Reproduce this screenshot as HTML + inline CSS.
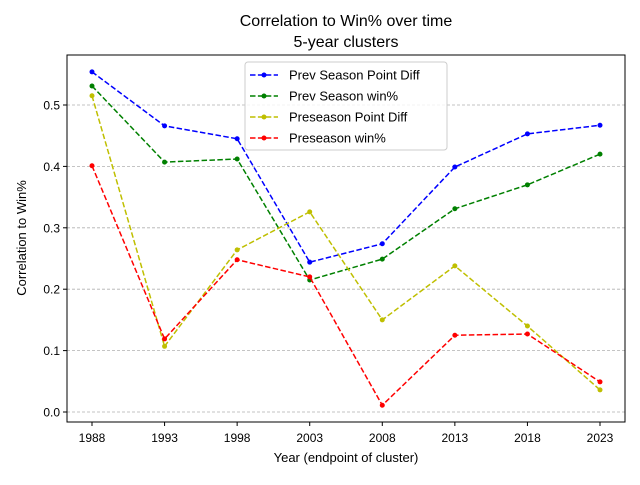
<!DOCTYPE html>
<html><head><meta charset="utf-8"><style>
body{margin:0;background:#fff;}
svg text{font-family:"Liberation Sans","DejaVu Sans",sans-serif;fill:#000;}
</style></head><body>
<svg id="chart" width="640" height="480">
<text x="346" y="26" font-size="16" text-anchor="middle">Correlation to Win% over time</text>
<text x="346" y="47" font-size="16" text-anchor="middle">5-year clusters</text>
<g id="grid"></g>
<g id="axes"></g>
<g id="series"></g>
<rect x="67" y="55" width="558" height="367" fill="none" stroke="#000" stroke-width="1"/>
<text x="346" y="462" font-size="13" text-anchor="middle">Year (endpoint of cluster)</text>
<text transform="translate(26,238) rotate(-90)" font-size="13" text-anchor="middle">Correlation to Win%</text>
<g id="legend"></g>
</svg>
<script>
const years=[1988,1993,1998,2003,2008,2013,2018,2023];
const prevPointDiff=[0.554,0.466,0.445,0.244,0.274,0.399,0.453,0.467];
const prevWinPct=[0.531,0.407,0.412,0.215,0.249,0.331,0.370,0.420];
const prePointDiff=[0.515,0.107,0.264,0.326,0.150,0.238,0.140,0.036];
const preWinPct=[0.401,0.119,0.248,0.220,0.011,0.125,0.127,0.049];
const yTicks=[0,0.1,0.2,0.3,0.4,0.5];
const yTickLabels=["0.0","0.1","0.2","0.3","0.4","0.5"];
const seriesNames=["Prev Season Point Diff","Prev Season win%","Preseason Point Diff","Preseason win%"];
const NS="http://www.w3.org/2000/svg";
const x=v=>92+(v-1988)*(508/35);
const y=v=>412-v*614;
function el(t,a,p){const e=document.createElementNS(NS,t);for(const k in a)e.setAttribute(k,a[k]);p.appendChild(e);return e;}
const grid=document.getElementById('grid'),axes=document.getElementById('axes'),ser=document.getElementById('series'),leg=document.getElementById('legend');
yTicks.forEach((t,i)=>{
 const g=el('line',{x1:67,x2:625,y1:y(t),y2:y(t),stroke:'#b0b0b0','stroke-width':0.8,'stroke-dasharray':'3,2'},grid);
 
 
 const tk=el('line',{x1:63,x2:67,y1:y(t),y2:y(t),stroke:'#000'},axes);
 
 
 const tx=el('text',{x:60,y:y(t)+4.5,'font-size':12,'text-anchor':'end'},axes);
 tx.textContent=yTickLabels[i];
 
 
});
years.forEach(v=>{
 const tk=el('line',{x1:x(v),x2:x(v),y1:422,y2:426,stroke:'#000'},axes);
 
 
 const tx=el('text',{x:x(v),y:442,'font-size':12,'text-anchor':'middle'},axes);
 tx.textContent=String(v);
 
 
});
const data=[prevPointDiff,prevWinPct,prePointDiff,preWinPct];
const colors=['#0000ff','#008000','#bfbf00','#ff0000'];
const keys=['prev-point-diff','prev-win-pct','preseason-point-diff','preseason-win-pct'];
data.forEach((d,s)=>{
 const pl=el('polyline',{points:d.map((v,i)=>x(years[i])+','+y(v)).join(' '),fill:'none',stroke:colors[s],'stroke-width':1.5,'stroke-dasharray':'5.5,2.4'},ser);
 
 
 d.forEach((v,i)=>{
  const c=el('circle',{cx:x(years[i]),cy:y(v),r:2.5,fill:colors[s]},ser);
  
  
 });
});
const box=el('rect',{x:245,y:62,width:202,height:88,rx:3,fill:'#fff','fill-opacity':0.8,stroke:'#ccc'},leg);


seriesNames.forEach((n,s)=>{
 const ly=75+s*21;
 const l=el('line',{x1:250,x2:278,y1:ly,y2:ly,stroke:colors[s],'stroke-width':1.5,'stroke-dasharray':'5.5,2.4'},leg);
 
 
 const c=el('circle',{cx:264,cy:ly,r:2.5,fill:colors[s]},leg);
 
 
 const t=el('text',{x:289,y:ly+4.5,'font-size':13},leg);
 t.textContent=n;
 
 
});
</script>
</body></html>
